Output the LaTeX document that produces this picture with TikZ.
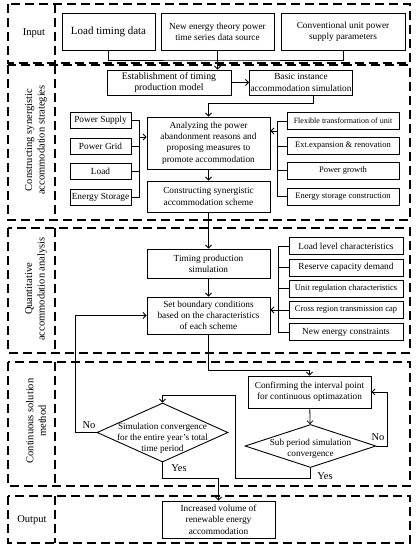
\documentclass[tikz,border=0pt]{standalone}
\usepackage{fontspec}
\setmainfont{Liberation Serif}
\usetikzlibrary{shapes.geometric,arrows.meta}
\tikzset{
 sec/.style={draw, line width=1.4pt, dash pattern=on 9pt off 5pt},
 box/.style={draw, line width=0.9pt, align=center, inner sep=1pt, font=\fontsize{9.3}{11.3}\selectfont},
 sbox/.style={box, font=\fontsize{8.5}{10}\selectfont},
 dia/.style={draw, diamond, line width=0.9pt, inner sep=0pt},
 dtxt/.style={align=center, inner sep=0pt, font=\fontsize{9.2}{11}\selectfont},
 conn/.style={line width=0.8pt},
 arr/.style={conn, -{Straight Barb[length=3pt,width=6pt]}},
 lab/.style={align=center, font=\fontsize{10.5}{12.5}\selectfont},
 yn/.style={font=\fontsize{10.5}{12}\selectfont, inner sep=0pt},
}
\begin{document}
\begin{tikzpicture}[x=1pt,y=-1pt]
\useasboundingbox (0,0) rectangle (418,550);
% section frames
\draw[sec] (8,4) rectangle (410,63);   \draw[sec] (55,4) -- (55,63);
\draw[sec] (8,65) rectangle (410,220); \draw[sec] (55,65) -- (55,220);
\draw[sec] (8,228) rectangle (410,353); \draw[sec] (55,228) -- (55,353);
\draw[sec] (8,362) rectangle (410,486); \draw[sec] (55,362) -- (55,486);
\draw[sec] (8,496) rectangle (410,543); \draw[sec] (55,496) -- (55,543);
% section labels
\node[lab] (lin) at (34,33) {Input};
\node[lab, rotate=90] (lcs) at (36,140) {Constructing synergistic\\accommodation strategies};
\node[lab, rotate=90] (lqa) at (36,289) {Quantitative\\accommodation analysis};
\node[lab, rotate=90] (lcm) at (36,421) {Continuous solution\\method};
\node[lab] (lout) at (32,520) {Output};
% input
\node[box, minimum width=93, minimum height=37, font=\fontsize{11}{13}\selectfont] (load) at (108.5,31.5) {Load timing data};
\node[box, minimum width=113, minimum height=37] (newe) at (217.5,31.5) {New energy theory power\\time series data source};
\node[box, minimum width=124, minimum height=37] (conv) at (343,31.5) {Conventional unit power\\supply parameters};
% constructing
\node[box, minimum width=124, minimum height=25, font=\fontsize{9.8}{11.3}\selectfont] (estab) at (169,82.5) {Establishment of timing\\production model};
\node[box, minimum width=102, minimum height=25] (basic) at (301,82.5) {Basic instance\\accommodation simulation};
\node[box, minimum width=123, minimum height=52] (anal) at (208.5,143) {Analyzing the power\\abandonment reasons and\\proposing measures to\\promote accommodation};
\node[box, minimum width=123, minimum height=31] (cons) at (208.5,196.5) {Constructing synergistic\\accommodation scheme};
\node[box, minimum width=61, minimum height=16] (ps) at (100.5,120) {Power Supply};
\node[box, minimum width=61, minimum height=16] (pg) at (100.5,146) {Power Grid};
\node[box, minimum width=61, minimum height=16] (ld) at (100.5,171.5) {Load};
\node[box, minimum width=61, minimum height=16] (es) at (100.5,197) {Energy Storage};
\node[sbox, minimum width=112, minimum height=17, font=\fontsize{8}{10}\selectfont] (flex) at (343,121) {Flexible transformation of unit};
\node[sbox, minimum width=112, minimum height=17] (ext) at (343,146) {Ext.expansion \& renovation};
\node[sbox, minimum width=112, minimum height=17] (pgr) at (343,170.5) {Power growth};
\node[sbox, minimum width=112, minimum height=17] (esc) at (343,196.5) {Energy storage construction};
% quantitative
\node[box, minimum width=123, minimum height=29] (timing) at (208.5,263.5) {Timing production\\simulation};
\node[box, minimum width=123, minimum height=37] (setb) at (208.5,315.5) {Set boundary conditions\\based on the characteristics\\of each scheme};
\node[box, minimum width=114, minimum height=17] (ll) at (346,246) {Load level characteristics};
\node[box, minimum width=114, minimum height=17] (rc) at (346,267.5) {Reserve capacity demand};
\node[sbox, minimum width=114, minimum height=17] (ur) at (346,288.5) {Unit regulation characteristics};
\node[sbox, minimum width=114, minimum height=17] (cr) at (346,310) {Cross region transmission cap};
\node[box, minimum width=114, minimum height=17] (nec) at (346,332) {New energy constraints};
% continuous
\node[box, minimum width=123, minimum height=32] (conf) at (309.5,392) {Confirming the interval point\\for continuous optimazation};
\node[dia, minimum width=131, minimum height=59] (simc) at (162.5,432.5) {};
\node[dtxt] (simct) at (162.5,438) {Simulation convergence\\for the entire year's total\\time period};
\node[dia, minimum width=131, minimum height=43] (sub) at (310.5,446) {};
\node[dtxt] (subt) at (310.5,449) {Sub period simulation\\convergence};
% output
\node[box, minimum width=113, minimum height=37] (out) at (218.5,519.5) {Increased volume of\\renewable energy\\accommodation};
% connectors: input
\coordinate (jin) at (217.5,60);
\draw[conn] (load.south) |- (jin) -| (conv.south);
\draw[arr] (newe.south) -- (newe.south |- estab.north);
% constructing
\draw[arr] (estab) -- (basic);
\draw[arr] ([xshift=12]basic.south) -- ++(0,8) -| (anal.north);
\draw[arr] (anal) -- (cons);
\draw[conn] (ps.east) -- ++(7.5,0) |- (es.east);
\draw[conn] (pg.east) -- ++(7.5,0);
\draw[conn] (ld.east) -- ++(7.5,0);
\coordinate (lba) at (138.5,137);
\draw[arr] (lba) -- (lba -| anal.west);
\draw[conn] (flex.west) -- ++(-9,0) |- (esc.west);
\draw[conn] (ext.west) -- ++(-9,0);
\draw[conn] (pgr.west) -- ++(-9,0);
\coordinate (rba) at (278,131);
\draw[arr] (rba) -- (rba -| anal.east);
% quantitative
\draw[arr] (cons) -- (timing);
\draw[arr] (timing) -- (setb);
\draw[conn] (ll.west) -- ++(-10,0) |- (nec.west);
\draw[conn] (rc.west) -- ++(-10,0);
\draw[conn] (ur.west) -- ++(-10,0);
\draw[arr] (cr.west) -- (cr.west -| setb.east);
% continuous
\coordinate (jc) at (309.5,370);
\draw[arr] (setb.south) |- (jc) -- (conf.north);
\draw[arr] (conf) -- (sub);
\draw[arr] (sub.east) -- ++(11,0) |- (conf.east);
\coordinate (sya) at (235,478);
\coordinate (syb) at (235,395);
\draw[arr] (sub.south) |- (sya) -- (syb) -| (simc.north);
\coordinate (sna) at (75,432.5);
\draw[arr] (simc.west) -- (sna) |- (setb.west);
\draw[arr] (simc.south) -- ++(0,16) -| (out.north);
\node[yn] (no1) at (89,425) {No};
\node[yn] (no2) at (378,437) {No};
\node[yn] (yes1) at (179,468) {Yes};
\node[yn] (yes2) at (325,476) {Yes};
\end{tikzpicture}
\end{document}
